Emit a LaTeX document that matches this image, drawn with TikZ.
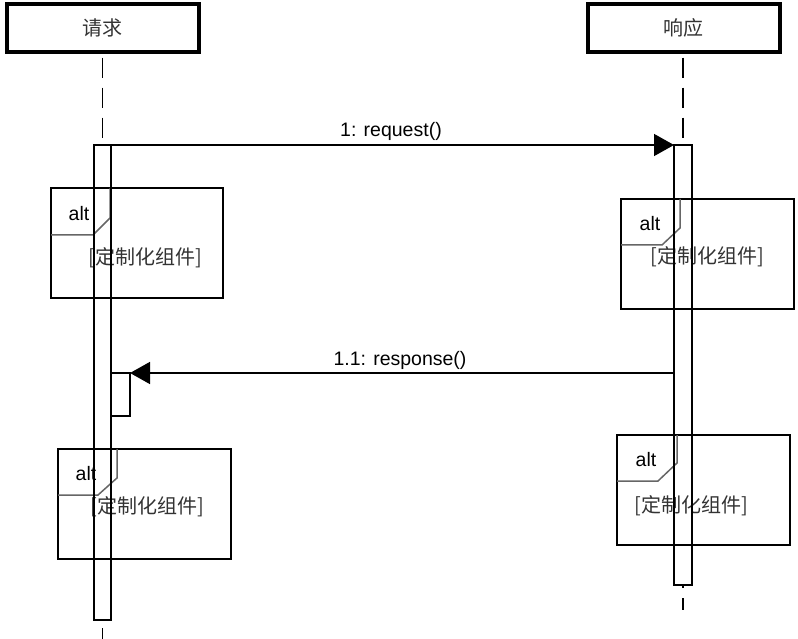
\documentclass[tikz,border=0pt]{standalone}
\usepackage{fontspec}
\setmainfont{Liberation Sans}
\newfontfamily\cjk{Noto Sans CJK SC}
\usetikzlibrary{arrows.meta, positioning}

\begin{document}
\begin{tikzpicture}[x=1pt, y=-1pt,
  head/.style={draw=black, line width=4pt, minimum width=192pt, minimum height=48pt, inner sep=0pt, font=\cjk\fontsize{20}{24}\selectfont, text=black!80},
  act/.style={draw=black, line width=2pt, inner sep=0pt, outer sep=0pt},
  lifeline/.style={black, line width=1.5pt, dash pattern=on 20pt off 10pt},
  msg/.style={black, line width=1.5pt, -{Triangle[length=20pt, width=22pt]}},
  frame/.style={draw=black, line width=2pt, inner sep=0pt, outer sep=0pt, minimum height=110pt},
  tab/.style={draw=black!60, line width=1.5pt},
  guard/.style={font=\cjk\fontsize{20}{24}\selectfont, text=black!80},
  lbl/.style={font=\fontsize{19.5}{23}\selectfont}]
\useasboundingbox (0,0) rectangle (798,639);

% lifeline heads
\node[head] (req) at (102.5,27.75) {请求};
\node[head] (res) at (683.5,27.75) {响应};

% alt frames
\node[frame, minimum width=172pt] (altA) at (137,243) {};
\draw[tab] (110,188) -- (110,218) -- (93,235) -- (51,235);
\node[lbl] (altAtxt) at (79,214) {alt};
\node[guard] (altAguard) at (145,258) {[定制化组件]};

\node[frame, minimum width=173pt] (altB) at (707.5,254) {};
\draw[tab] (680,199) -- (680,228) -- (662,245) -- (621,245);
\node[lbl] (altBtxt) at (650,224) {alt};
\node[guard] (altBguard) at (707,257) {[定制化组件]};

\node[frame, minimum width=173pt] (altC) at (144.5,504) {};
\draw[tab] (117,449) -- (117,478) -- (98,495) -- (58,495);
\node[lbl] (altCtxt) at (86,474) {alt};
\node[guard] (altCguard) at (147,507) {[定制化组件]};

\node[frame, minimum width=173pt] (altD) at (703.5,490) {};
\draw[tab] (677,435) -- (677,463) -- (658,481) -- (617,481);
\node[lbl] (altDtxt) at (646,460) {alt};
\node[guard] (altDguard) at (691,506) {[定制化组件]};

% activations
\node[act, minimum width=17pt, minimum height=475pt] (reqact) at (102.5,382.5) {};
\node[act, minimum width=18pt, minimum height=440pt] (resact) at (683,365) {};
\node[act, minimum width=19pt, minimum height=43pt] (retact) at (120.5,394.5) {};

% lifelines
\coordinate (reqend) at (102.5,639);
\coordinate (resend) at (683,610);
\draw[lifeline, dash phase=26pt] (req.south) -- (reqact.north);
\draw[lifeline, dash phase=26pt] (res.south -| resact.north) -- (resact.north);
\draw[lifeline, dash phase=22pt] (reqact.south) -- (reqend);
\draw[lifeline, dash phase=17pt] (resact.south) -- (resend);

% messages
\draw[msg] (reqact.north east) -- (resact.north west);
\node[lbl] (reqlbl) at (391,131) {1: request()};
\draw[msg] (resact.west |- retact.north) -- (retact.north east);
\node[lbl] (reslbl) at (400,360) {1.1: response()};

\end{tikzpicture}
\end{document}
